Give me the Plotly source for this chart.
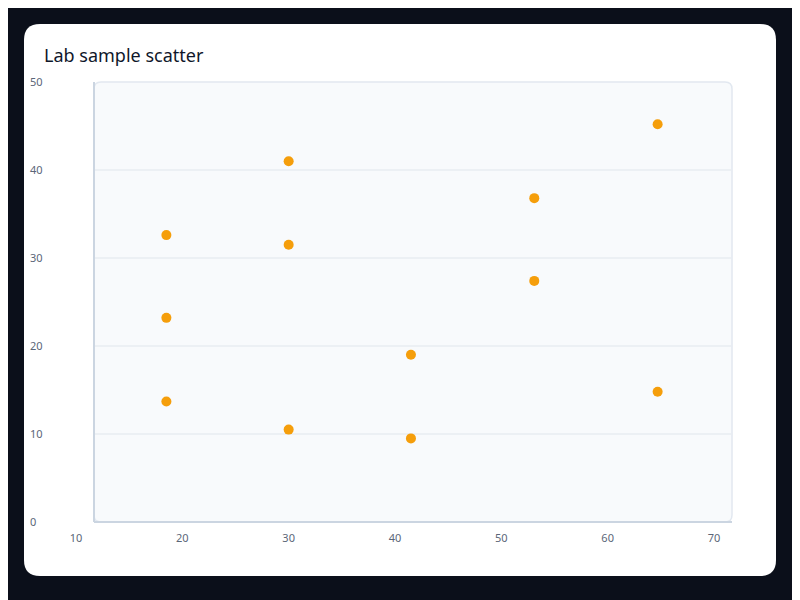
import plotly.graph_objects as go

sample_x = [18.5, 18.5, 18.5, 30.0, 30.0, 30.0, 41.5, 41.5, 53.1, 53.1, 64.7, 64.7]
sample_y = [32.6, 23.2, 13.7, 41.0, 31.5, 10.5, 19.0, 9.5, 36.8, 27.4, 45.2, 14.8]

x_ticks = [10, 20, 30, 40, 50, 60, 70]
y_ticks = [0, 10, 20, 30, 40, 50]

W, H = 800, 600
OFF = 8  # page body margin


def px_x(p):
    return (p - OFF) / W


def px_y(p):
    return 1 - (p - OFF) / H


def rounded_rect(x0, y0, x1, y1, r):
    # path in paper coords built from pixel corners
    pts = [
        f"M {px_x(x0 + r)},{px_y(y0)}",
        f"L {px_x(x1 - r)},{px_y(y0)}",
        f"Q {px_x(x1)},{px_y(y0)} {px_x(x1)},{px_y(y0 + r)}",
        f"L {px_x(x1)},{px_y(y1 - r)}",
        f"Q {px_x(x1)},{px_y(y1)} {px_x(x1 - r)},{px_y(y1)}",
        f"L {px_x(x0 + r)},{px_y(y1)}",
        f"Q {px_x(x0)},{px_y(y1)} {px_x(x0)},{px_y(y1 - r)}",
        f"L {px_x(x0)},{px_y(y0 + r)}",
        f"Q {px_x(x0)},{px_y(y0)} {px_x(x0 + r)},{px_y(y0)}",
        "Z",
    ]
    return " ".join(pts)


# plot box in screen pixels
L, T, R, B = 94, 82, 732, 522
x_scale = 10.633  # px per unit
x_lo = 10
x_hi = x_lo + (R - 76) / x_scale

shapes = [
    dict(type="path", path=rounded_rect(24, 24, 776, 576, 16), xref="paper", yref="paper",
         fillcolor="#ffffff", line=dict(width=0), layer="below"),
    dict(type="path", path=rounded_rect(L, T, R, B, 7), xref="paper", yref="paper",
         fillcolor="#f8fafc", line=dict(color="#e2e8f0", width=1.5), layer="below"),
]
for v in y_ticks[1:-1]:
    shapes.append(dict(type="line", xref="paper", yref="y", x0=px_x(L), x1=px_x(R), y0=v, y1=v,
                       line=dict(color="#e8ecf2", width=1.5), layer="below"))
shapes.append(dict(type="line", xref="paper", yref="paper", x0=px_x(L), x1=px_x(L),
                   y0=px_y(T), y1=px_y(B), line=dict(color="#cbd5e1", width=2), layer="below"))
shapes.append(dict(type="line", xref="paper", yref="paper", x0=px_x(L), x1=px_x(R),
                   y0=px_y(B), y1=px_y(B), line=dict(color="#cbd5e1", width=2), layer="below"))

fig = go.Figure()
fig.add_trace(go.Scatter(
    x=sample_x, y=sample_y, mode="markers",
    marker=dict(color="#f59e0b", size=10, line=dict(width=0)),
    showlegend=False, hoverinfo="x+y",
))

fig.update_layout(
    width=W, height=H,
    margin=dict(l=0, r=0, t=0, b=0),
    paper_bgcolor="#0b0f1a",
    plot_bgcolor="rgba(0,0,0,0)",
    font=dict(family="Noto Sans", size=11, color="#5b6678"),
    shapes=shapes,
    annotations=[dict(text="Lab sample scatter", xref="paper", yref="paper",
                      x=px_x(42), y=px_y(55), xanchor="left", yanchor="middle",
                      showarrow=False, font=dict(size=18, color="#0f172a"))],
    xaxis=dict(domain=[px_x(76), px_x(R)], range=[x_lo, x_hi], tickvals=x_ticks,
               showgrid=False, zeroline=False, showline=False, ticks="",
               anchor="y", automargin=False, ticklabelstandoff=8),
    yaxis=dict(domain=[px_y(B), px_y(T)], range=[0, 50], tickvals=y_ticks,
               showgrid=False, zeroline=False, showline=False, ticks="",
               anchor="free", position=px_x(29), side="right",
               automargin=False),
)

fig.write_html("out.html")
